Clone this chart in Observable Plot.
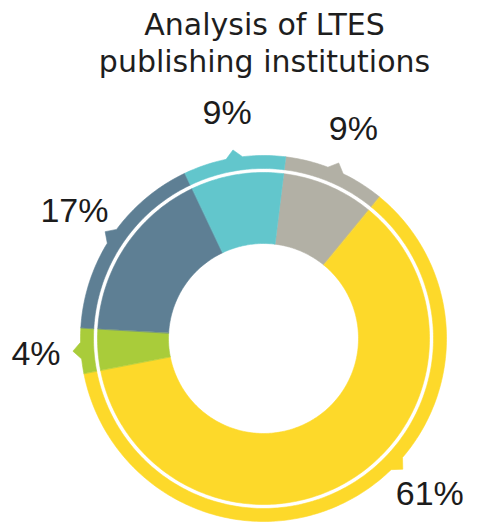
<!DOCTYPE html>
<html>
<head>
<meta charset="utf-8">
<script src="https://cdn.jsdelivr.net/npm/d3@7"></script>
<script src="https://cdn.jsdelivr.net/npm/@observablehq/plot@0.6"></script>
<style>
  html, body { margin: 0; padding: 0; background: #fff; }
  #title {
    box-sizing: border-box; height: 90px; padding-top: 6px; width: 479px;
    text-align: center; font-family: "DejaVu Sans", sans-serif; font-size: 30px;
    line-height: 37px; color: #1e1e1e; padding-left: 50px; white-space: nowrap;
  }
  #chart svg { display: block; }
</style>
</head>
<body>
<div id="title">Analysis of LTES<br>publishing institutions</div>
<div id="chart"></div>
<script>
// ---- data ----
const categories = ["Group A", "Group B", "Group C", "Group D", "Group E"];
const shares = [9, 61, 4, 17, 9];           // percent, clockwise
const shareLabels = ["9%", "61%", "4%", "17%", "9%"];

// ---- styling / geometry ----
const colors = ["#b2b0a5", "#fdd92a", "#a9cc3a", "#5e7f94", "#62c6cc"];
const W = 479, H = 436, CX = 263, CY = 248;
const startDeg = 7;
const rIn = 95, rMid = 166, rBandIn = 170, rBandOut = 183, rTip = 191, tipHalf = 2.6;
const rLabel = 228, labelMaxY = (H - CY) - 32;

const rad = d => d * Math.PI / 180;
const pt = (name, r, a) => ({name, x: r * Math.sin(rad(a)), y: -r * Math.cos(rad(a))});

const total = d3.sum(shares);
let acc = startDeg;
const slices = categories.map((name, i) => {
  const a0 = acc, a1 = acc + shares[i] / total * 360;
  acc = a1;
  let c = (a0 + a1) / 2;
  // keep callout inside the frame: slide along the circle if it would fall below
  const yl = -rLabel * Math.cos(rad(c));
  if (yl > labelMaxY) {
    const side = Math.sin(rad(c)) >= 0 ? 1 : -1;
    const base = Math.acos(-labelMaxY / rLabel) * 180 / Math.PI;
    c = side > 0 ? base : 360 - base;
  }
  return {name, a0, a1, c, label: shareLabels[i]};
});

function arcPts(name, r, a0, a1) {
  const n = Math.max(2, Math.ceil(Math.abs(a1 - a0)));
  return d3.range(n + 1).map(k => pt(name, r, a0 + (a1 - a0) * k / n));
}

const mainPts = [], bandPts = [];
for (const s of slices) {
  mainPts.push(...arcPts(s.name, rMid, s.a0, s.a1), ...arcPts(s.name, rIn, s.a1, s.a0));
  // band outer edge with a small pointer
  const outer = [];
  const n = Math.ceil(s.a1 - s.a0);
  for (let k = 0; k <= n; k++) {
    const a = s.a0 + (s.a1 - s.a0) * k / n;
    if (Math.abs(a - s.c) > tipHalf) outer.push(pt(s.name, rBandOut, a));
    if (k < n) {
      const an = s.a0 + (s.a1 - s.a0) * (k + 1) / n;
      if (a <= s.c - tipHalf && an > s.c - tipHalf) {
        outer.push(pt(s.name, rBandOut, s.c - tipHalf), pt(s.name, rTip, s.c), pt(s.name, rBandOut, s.c + tipHalf));
      }
    }
  }
  bandPts.push(...outer, ...arcPts(s.name, rBandIn, s.a1, s.a0));
}

const labelData = slices.map(s => ({...pt(s.name, rLabel, s.c), label: s.label}));

const chart = Plot.plot({
  width: W, height: H, margin: 0,
  x: {domain: [-CX, W - CX], range: [0, W], axis: null},
  y: {domain: [-CY, H - CY], range: [0, H], axis: null},
  color: {type: "ordinal", domain: categories, range: colors},
  marks: [
    Plot.line(mainPts, {x: "x", y: "y", z: "name", fill: "name", stroke: "name", strokeWidth: 0.6, curve: "linear-closed"}),
    Plot.line(bandPts, {x: "x", y: "y", z: "name", fill: "name", stroke: "name", strokeWidth: 0.6, curve: "linear-closed"}),
    Plot.text(labelData, {x: "x", y: "y", text: "label", fontSize: 34, fontFamily: "Liberation Sans, Arial, sans-serif", fill: "#1c1c1c"})
  ]
});
document.getElementById("chart").appendChild(chart);
</script>
</body>
</html>
